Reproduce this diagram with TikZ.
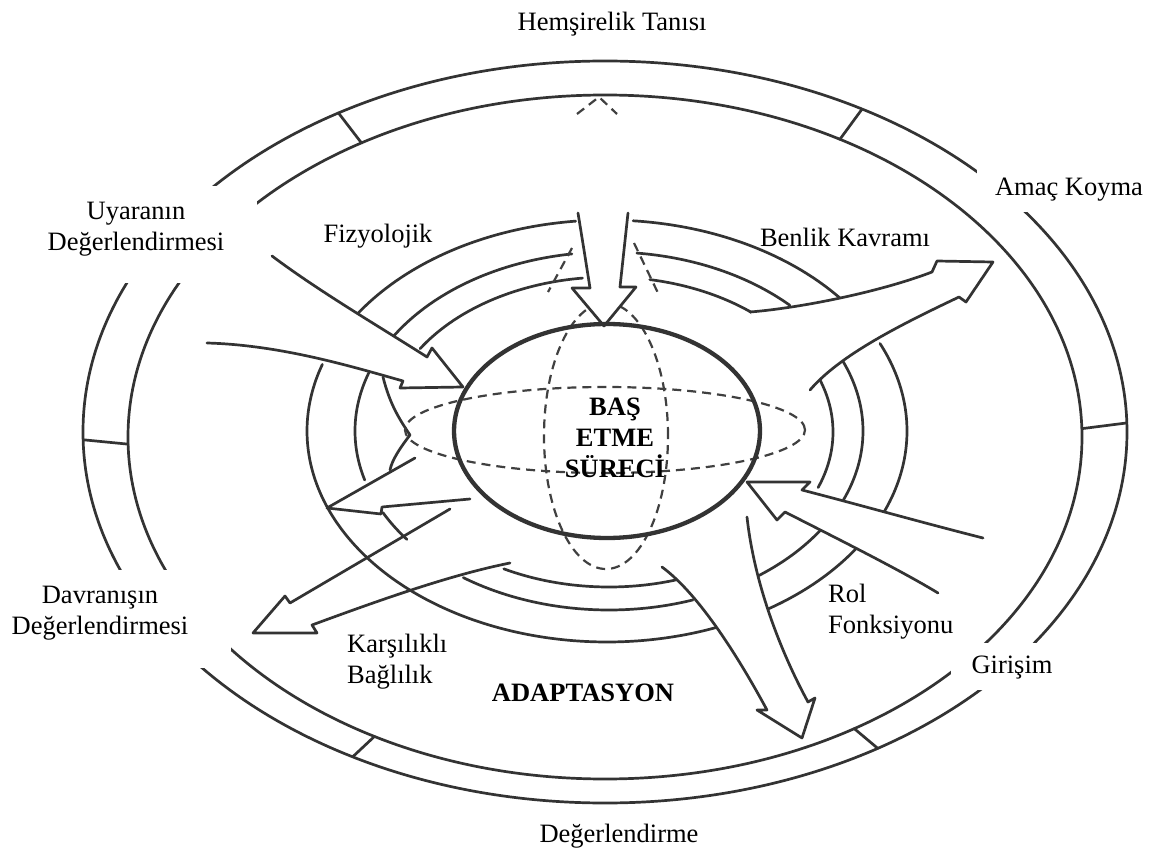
\documentclass[tikz,border=0pt]{standalone}
\usepackage{fontspec}
\setmainfont{Liberation Serif}
\begin{document}
\begin{tikzpicture}[x=1pt,y=-1pt,
  ln/.style={line width=2.7pt, draw=black!80, line join=round, line cap=round},
  thickell/.style={line width=4.3pt, draw=black!80},
  dsh/.style={line width=2.2pt, draw=black!75, dash pattern=on 9pt off 6pt},
  arr/.style={ln, fill=white},
  lbl/.style={font=\fontsize{26.5}{31}\selectfont, align=center, inner sep=0pt, text=black},
  blbl/.style={lbl, font=\fontsize{26.5}{31}\selectfont\bfseries}]
\useasboundingbox (0,0) rectangle (1152,850);
\fill[white] (0,0) rectangle (1152,850);

% outer ring
\draw[ln] (605,432) ellipse [x radius=522pt, y radius=371pt];
\draw[ln] (605,437) ellipse [x radius=477pt, y radius=342pt];
\foreach \t in {239.3,299.5,178.8,358.6,118.9,58.5}
  \draw[ln] ({605+477*cos(\t)},{437+342*sin(\t)}) -- ({605+522*cos(\t)},{432+371*sin(\t)});

% inner rings
\foreach \a/\b in {212/264,275/321,335.5/382.7,392.5/417.8,68.5/198.4}
  \draw[ln] plot[domain=\a:\b,samples=60,smooth,variable=\t] ({607+300*cos(\t)},{431+211*sin(\t)});
\foreach \a/\b in {210.5/261.6,276.3/315.4,337/382.6,393.9/414.4,70.7/125,142.7/152.9,164.1/198.9}
  \draw[ln] plot[domain=\a:\b,samples=60,smooth,variable=\t] ({609+254*cos(\t)},{431+179*sin(\t)});
\foreach \a/\b in {212.5/263.2,280.5/310,338.4/381,71.5/118}
  \draw[ln] plot[domain=\a:\b,samples=60,smooth,variable=\t] ({609+224*cos(\t)},{432+155*sin(\t)});
\draw[ln] (383,377) .. controls (390,405) and (400,420) .. (410,435) .. controls (400,448) and (392,460) .. (390,470);

% dashed ellipses
\draw[dsh] (605,430) ellipse [x radius=200pt, y radius=43pt];
\draw[dsh] (606,436) ellipse [x radius=62pt, y radius=133pt];
\draw[dsh] (572,248) -- (548,292);
\draw[dsh] (634,243) -- (658,293);
\draw[dsh] (577,114) -- (599,97) -- (617,114);

% block arrows
\draw[arr] (578,213) -- (584,250) -- (590,288) -- (572,288) -- (604,326) -- (636,287) -- (620,287) -- (624,250) -- (628,213);
\draw[arr] (272,256) .. controls (320,292) and (380,327) .. (427,357) -- (432,348) -- (463,387) -- (400,388) -- (403,381) .. controls (350,366) and (280,345) .. (207,343);
\draw[arr] (415,458) -- (327,508) -- (381,514) -- (382,507) -- (470,499);
\draw[ln] (450,509) -- (290,603) -- (285,596) -- (253,633) -- (317,633) -- (312,625) .. controls (380,600) and (450,575) .. (510,563);
\draw[arr] (750,312) .. controls (800,308) and (880,292) .. (932,272) -- (937,261) -- (993,262) -- (966,302) -- (959,297) .. controls (900,325) and (840,355) .. (810,390);
\draw[arr] (983,538) .. controls (920,522) and (860,505) .. (802,490) -- (810,482) -- (747,482) -- (777,520) -- (785,512) .. controls (840,540) and (900,570) .. (938,593);
\draw[arr] (662,567) .. controls (700,595) and (740,660) .. (767,710) -- (757,710) -- (802,738) -- (815,698) -- (808,702) .. controls (785,660) and (755,590) .. (747,517);

% central ellipse
\draw[thickell] (607,431) ellipse [x radius=153pt, y radius=107pt];

% label backgrounds
\fill[white] (0,186) rectangle (257,283);
\fill[white] (977,162) rectangle (1152,212);
\fill[white] (0,570) rectangle (231,668);
\fill[white] (951,643) rectangle (1152,690);

% labels
\node[lbl] (hem) at (612,24) {Hemşirelik Tanısı};
\node[lbl] (amac) at (1069,190) {Amaç Koyma};
\node[lbl] (uyar) at (136,229) {Uyaranın\\Değerlendirmesi};
\node[lbl] (fiz) at (378,236) {Fizyolojik};
\node[lbl] (benlik) at (845,237) {Benlik Kavramı};
\node[blbl] (bas) at (615,438) {BAŞ\\ETME\\SÜRECİ};
\node[lbl] (davr) at (100,613) {Davranışın\\Değerlendirmesi};
\node[lbl, anchor=west, align=left] (kars) at (347,662) {Karşılıklı\\Bağlılık};
\node[blbl] (adap) at (583,693) {ADAPTASYON};
\node[lbl, anchor=west, align=left] (rol) at (828,612) {Rol\\Fonksiyonu};
\node[lbl] (giri) at (1012,668) {Girişim};
\node[lbl] (deg) at (619,836) {Değerlendirme};
\end{tikzpicture}
\end{document}
